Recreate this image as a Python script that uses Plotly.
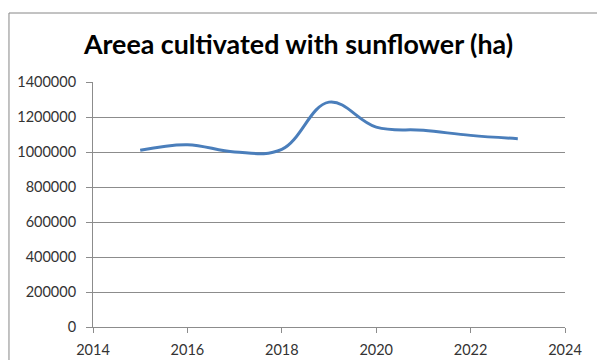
import plotly.graph_objects as go

years = [2015, 2016, 2017, 2018, 2019, 2020, 2021, 2022, 2023]
area_ha = [1010000, 1042000, 1000000, 1015000, 1285000, 1142000, 1124000, 1095000, 1076000]

x_ticks = [2014, 2016, 2018, 2020, 2022, 2024]
y_ticks = [0, 200000, 400000, 600000, 800000, 1000000, 1200000, 1400000]

grid_col = "#8c8c8c"
font_fam = "Lato, 'Open Sans', sans-serif"

fig = go.Figure()
fig.add_trace(go.Scatter(
    x=years, y=area_ha, mode="lines",
    line=dict(color="#4a7ebb", width=3, shape="spline", smoothing=1.1),
    hoverinfo="x+y",
))

fig.update_layout(
    width=597, height=360,
    margin=dict(l=93, r=32, t=82, b=33),
    paper_bgcolor="white", plot_bgcolor="white",
    showlegend=False,
    title=dict(
        text="<b>Areea cultivated with sunflower (ha)</b>",
        x=0.5, xanchor="center", y=0.875, yanchor="middle",
        font=dict(family=font_fam, size=26.8, color="black"),
    ),
    xaxis=dict(
        range=[2014, 2024], tickvals=x_ticks, ticktext=[str(v) for v in x_ticks],
        showgrid=False, zeroline=False, automargin=False,
        showline=True, linecolor=grid_col, linewidth=1,
        ticks="outside", ticklen=5, tickcolor=grid_col, ticklabelstandoff=5,
        tickfont=dict(family=font_fam, size=14.5, color="#333333"),
    ),
    yaxis=dict(
        range=[0, 1400000], tickvals=y_ticks, ticktext=[str(v) for v in y_ticks],
        showgrid=True, gridcolor=grid_col, gridwidth=1, zeroline=False,
        automargin=False,
        showline=True, linecolor=grid_col, linewidth=1,
        ticks="outside", ticklen=6, tickcolor=grid_col, ticklabelstandoff=7,
        tickfont=dict(family=font_fam, size=14.5, color="#333333"),
    ),
    shapes=[dict(
        type="rect", xref="paper", yref="paper",
        x0=-0.178, x1=1.2, y0=-0.3, y1=1.2816,
        line=dict(color="#868686", width=1), fillcolor="rgba(0,0,0,0)",
        layer="below",
    )],
)

fig.write_html("out.html")
